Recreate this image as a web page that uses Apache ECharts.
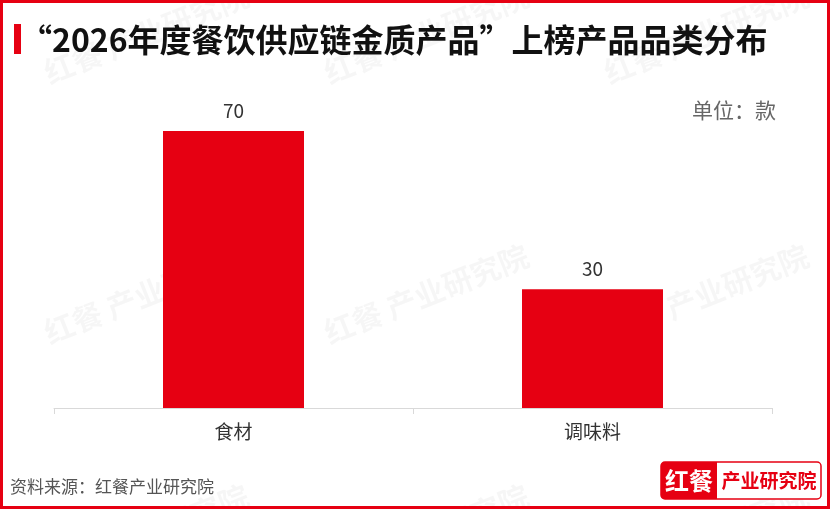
<!DOCTYPE html>
<html><head><meta charset="utf-8">
<script src="https://cdn.jsdelivr.net/npm/echarts@6/dist/echarts.min.js"></script>
<style>html,body{margin:0;padding:0;background:#fff}#c{width:830px;height:509px}</style>
</head><body><div id="c"></div>
<script>
const categories = ['食材', '调味料'];
const values = [70, 30];
const titleText = '“2026年度餐饮供应链金质产品”上榜产品品类分布';
const unitText = '单位：款';
const sourceText = '资料来源：红餐产业研究院';

const chart = echarts.init(document.getElementById('c'));
const RED = '#e60012';
const wm = [];
const wmPos = [[40,320],[320,320],[600,320],[40,60],[320,60],[600,60],[40,560],[320,560],[600,560]];
wmPos.forEach(p => {
  wm.push({type:'text', x:p[0], y:p[1], rotation: Math.PI*0.12, z:0, silent:true,
    style:{text:'红餐 产业研究院', fill:'rgba(0,0,0,0.035)', font:'bold 30px "Noto Sans CJK SC"'}});
});
chart.setOption({
  animation:false,
  grid:{left:54, right:58, top:131, bottom:101, containLabel:false},
  xAxis:{type:'category', data:categories,
    axisLine:{lineStyle:{color:'#d9d9d9', width:1}},
    axisTick:{show:true, length:6, lineStyle:{color:'#d9d9d9'}},
    axisLabel:{color:'#333', fontSize:19, margin:14, fontFamily:'Noto Sans CJK SC'}},
  yAxis:{type:'value', min:0, max:70, show:false, splitLine:{show:false}},
  series:[{type:'bar', data:values, barWidth:141, itemStyle:{color:RED},
    label:{show:true, position:'top', distance:11, color:'#333', fontSize:19, fontFamily:'Noto Sans CJK SC'}, z:5}],
  graphic: wm.concat([
    {type:'rect', shape:{x:1.5,y:1.5,width:827,height:506}, style:{fill:null, stroke:RED, lineWidth:3}, silent:true, z:10},
    {type:'rect', shape:{x:14,y:24,width:7,height:30}, style:{fill:RED}, z:10},
    {type:'text', x:20, y:40, style:{text:titleText, fill:'#111', font:'bold 32px "Noto Sans CJK SC"', verticalAlign:'middle'}, z:10},
    {type:'text', x:776, y:110, style:{text:unitText, fill:'#666', font:'21px "Noto Sans CJK SC"', align:'right', verticalAlign:'middle'}, z:10},
    {type:'text', x:10, y:487, style:{text:sourceText, fill:'#555', font:'17px "Noto Sans CJK SC"', verticalAlign:'middle'}, z:10},
    {type:'rect', shape:{x:661,y:462,width:160,height:37,r:4}, style:{fill:'#fff', stroke:RED, lineWidth:1.5}, z:10},
    {type:'rect', shape:{x:661,y:462,width:56,height:37,r:[4,0,0,4]}, style:{fill:RED}, z:11},
    {type:'text', x:689, y:481, style:{text:'红餐', fill:'#fff', font:'bold 24px "Noto Sans CJK SC"', align:'center', verticalAlign:'middle'}, z:12},
    {type:'text', x:769, y:481, style:{text:'产业研究院', fill:RED, font:'bold 19px "Noto Sans CJK SC"', align:'center', verticalAlign:'middle'}, z:12}
  ])
});
</script></body></html>
